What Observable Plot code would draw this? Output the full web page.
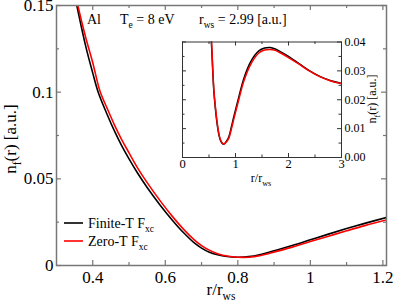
<!DOCTYPE html>
<html><head><meta charset="utf-8">
<script src="https://cdn.jsdelivr.net/npm/d3@7"></script>
<script src="https://cdn.jsdelivr.net/npm/@observablehq/plot@0.6"></script>
<style>
body{margin:0;background:#fff;}
#wrap{position:relative;width:395px;height:305px;overflow:hidden;background:#fff;}
#wrap svg{position:absolute;left:0;top:0;}
#wrap svg, #wrap svg text, #wrap svg tspan{font-family:"Liberation Serif","Times New Roman","DejaVu Serif",serif !important;}
</style></head><body><div id="wrap"></div>
<script>
// ---- main panel data (r/r_ws, n_f(r) [a.u.]) ----
const mainFiniteX = [0.33, 0.356, 0.38, 0.40, 0.415, 0.44, 0.46, 0.48, 0.50, 0.523, 0.55, 0.587, 0.62, 0.65, 0.68, 0.70, 0.72, 0.744, 0.77, 0.80, 0.83, 0.86, 0.89, 0.95, 1.0, 1.05, 1.1, 1.15, 1.21];
const mainFiniteY = [0.176, 0.150, 0.127, 0.111, 0.100, 0.087, 0.0775, 0.069, 0.0615, 0.0535, 0.045, 0.0345, 0.026, 0.019, 0.013, 0.010, 0.0078, 0.0062, 0.0052, 0.0048, 0.0051, 0.0062, 0.0079, 0.0115, 0.0148, 0.0181, 0.0213, 0.0243, 0.0277];
const mainZeroX = [0.335, 0.359, 0.38, 0.40, 0.42, 0.44, 0.46, 0.48, 0.50, 0.523, 0.55, 0.587, 0.62, 0.65, 0.68, 0.70, 0.72, 0.744, 0.77, 0.80, 0.83, 0.86, 0.89, 0.95, 1.0, 1.05, 1.1, 1.15, 1.21];
const mainZeroY = [0.176, 0.150, 0.132, 0.117, 0.1005, 0.0905, 0.081, 0.0725, 0.065, 0.0565, 0.0478, 0.037, 0.0282, 0.021, 0.0148, 0.0115, 0.009, 0.0068, 0.0055, 0.0048, 0.0048, 0.0056, 0.0072, 0.0106, 0.0138, 0.0169, 0.020, 0.023, 0.0263];

// ---- inset data ----
const insetFiniteX = [0.52, 0.545, 0.59, 0.62, 0.652, 0.68, 0.715, 0.75, 0.778, 0.82, 0.873, 0.92, 0.968, 1.063, 1.158, 1.285, 1.44, 1.55, 1.65, 1.75, 1.85, 2.0, 2.2, 2.4, 2.6, 2.8, 3.0];
const insetFiniteY = [0.048, 0.040, 0.0233, 0.017, 0.0118, 0.0085, 0.006, 0.0049, 0.0046, 0.0054, 0.0071, 0.0104, 0.0141, 0.021, 0.0274, 0.0331, 0.0369, 0.0379, 0.0381, 0.0376, 0.0366, 0.0350, 0.0325, 0.0300, 0.0280, 0.0266, 0.0257];
const insetZeroX = [0.525, 0.55, 0.59, 0.62, 0.652, 0.68, 0.715, 0.75, 0.78, 0.82, 0.873, 0.92, 0.968, 1.063, 1.158, 1.285, 1.44, 1.55, 1.65, 1.75, 1.85, 2.0, 2.2, 2.4, 2.6, 2.8, 3.0];
const insetZeroY = [0.048, 0.0395, 0.024, 0.0177, 0.0124, 0.0089, 0.0062, 0.005, 0.0046, 0.0052, 0.0066, 0.0097, 0.0133, 0.0201, 0.0265, 0.0322, 0.0362, 0.0372, 0.0374, 0.0371, 0.0362, 0.0346, 0.0323, 0.0299, 0.0279, 0.0265, 0.0256];

// ---- ticks ----
const mainXMajor = [0.4, 0.6, 0.8, 1.0, 1.2];
const mainXMinor = [0.5, 0.7, 0.9, 1.1];
const mainYMajor = [0, 0.05, 0.1, 0.15];
const mainYMinor = [0.025, 0.075, 0.125];
const insetXMajor = [0, 1, 2, 3];
const insetXMinor = [0.5, 1.5, 2.5];
const insetYMajor = [0, 0.01, 0.02, 0.03, 0.04];
const insetYMinor = [0.005, 0.015, 0.025, 0.035];

const seriesNames = ["Finite-T", "Zero-T"];
const colors = ["#000000", "#ff0000"];

const rows = (xs, ys) => xs.map((x, i) => ({x, y: ys[i]}));
const FONT = "'Liberation Serif', 'Times New Roman', 'DejaVu Serif', serif";
const W = 395, H = 305;

function tickMarks(xMaj, xMin, yMaj, yMin, fw, fh, maj, mn, stroke, sw) {
  const o = {stroke, strokeWidth: sw};
  return [
    Plot.ruleX(xMaj, {...o, insetTop: fh - maj}),
    Plot.ruleX(xMaj, {...o, insetBottom: fh - maj}),
    Plot.ruleX(xMin, {...o, insetTop: fh - mn}),
    Plot.ruleX(xMin, {...o, insetBottom: fh - mn}),
    Plot.ruleY(yMaj, {...o, insetRight: fw - maj}),
    Plot.ruleY(yMaj, {...o, insetLeft: fw - maj}),
    Plot.ruleY(yMin, {...o, insetRight: fw - mn}),
    Plot.ruleY(yMin, {...o, insetLeft: fw - mn})
  ];
}

function addText(svg, {x, y, rotate = 0, anchor = "start", size, parts}) {
  const t = svg.append("text")
    .attr("transform", `translate(${x},${y}) rotate(${rotate})`)
    .attr("text-anchor", anchor)
    .attr("font-size", size)
    .attr("fill", "#000")
    .style("font-family", FONT)
    .style("white-space", "pre");
  let shifted = false;
  for (const [s, sub] of parts) {
    const ts = t.append("tspan").text(s);
    if (sub) {
      ts.attr("font-size", size * 0.68);
      if (!shifted) { ts.attr("dy", size * 0.32); shifted = true; }
    } else if (shifted) {
      ts.attr("dy", -size * 0.32); shifted = false;
    }
  }
  return t;
}

// ---------- main plot ----------
const mL = 56, mR = 9, mT = 5, mB = 40;
const fw = W - mL - mR, fh = H - mT - mB;
const mainPlot = Plot.plot({
  width: W, height: H,
  marginLeft: mL, marginRight: mR, marginTop: mT, marginBottom: mB,
  x: {domain: [0.3, 1.21]},
  y: {domain: [0, 0.15]},
  style: {fontFamily: FONT, fontSize: "17px", background: "transparent", overflow: "visible", color: "#000"},
  marks: [
    Plot.line(rows(mainFiniteX, mainFiniteY), {x: "x", y: "y", stroke: colors[0], strokeWidth: 1.6, curve: "catmull-rom", clip: true}),
    Plot.line(rows(mainZeroX, mainZeroY), {x: "x", y: "y", stroke: colors[1], strokeWidth: 1.6, curve: "catmull-rom", clip: true}),
    ...tickMarks(mainXMajor, mainXMinor, mainYMajor, mainYMinor, fw, fh, 5, 3, "#777", 1.2),
    Plot.frame({stroke: "#777", strokeWidth: 1.5}),
    Plot.axisX(mainXMajor, {tickSize: 0, tickPadding: 5, tickFormat: d => String(d), label: null, fontSize: 17, fill: "#000"}),
    Plot.axisY(mainYMajor, {tickSize: 0, tickPadding: 3, tickFormat: d => String(d), label: null, fontSize: 17, fill: "#000"})
  ]
});

// ---------- inset plot ----------
const iL = 182, iR = W - 341, iT = 41.5, iB = H - 157;
const ifw = W - iL - iR, ifh = H - iT - iB;
const insetPlot = Plot.plot({
  width: W, height: H,
  marginLeft: iL, marginRight: iR, marginTop: iT, marginBottom: iB,
  x: {domain: [0, 3]},
  y: {domain: [0, 0.04]},
  style: {fontFamily: FONT, fontSize: "12px", background: "transparent", overflow: "visible", color: "#000"},
  marks: [
    Plot.frame({fill: "white", stroke: null}),
    Plot.line(rows(insetFiniteX, insetFiniteY), {x: "x", y: "y", stroke: colors[0], strokeWidth: 1.5, curve: "catmull-rom", clip: true}),
    Plot.line(rows(insetZeroX, insetZeroY), {x: "x", y: "y", stroke: colors[1], strokeWidth: 1.5, curve: "catmull-rom", clip: true}),
    ...tickMarks(insetXMajor, insetXMinor, insetYMajor, insetYMinor, ifw, ifh, 4, 2.5, "#333", 1),
    Plot.frame({stroke: "#333", strokeWidth: 1}),
    Plot.axisX(insetXMajor, {tickSize: 0, tickPadding: 2, tickFormat: d => String(d), label: null, fontSize: 12.5, fill: "#000"}),
    Plot.axisY(insetYMajor, {anchor: "right", tickSize: 0, tickPadding: 3, tickFormat: d => d.toFixed(2), label: null, fontSize: 12, fill: "#000"})
  ]
});

const wrap = document.getElementById("wrap");
wrap.appendChild(mainPlot);
wrap.appendChild(insetPlot);

// ---------- text labels ----------
const ms = d3.select(mainPlot);
addText(ms, {x: 16, y: 139, rotate: -90, anchor: "middle", size: 17, parts: [["n"], ["f", true], ["(r) [a.u.]"]]});
addText(ms, {x: 221, y: 295, anchor: "middle", size: 17, parts: [["r/r"], ["ws", true]]});
addText(ms, {x: 87, y: 24, size: 14, parts: [["Al"]]});
addText(ms, {x: 120, y: 24, size: 14, parts: [["T"], ["e", true], [" = 8 eV"]]});
addText(ms, {x: 199, y: 24, size: 14, parts: [["r"], ["ws", true], [" = 2.99 [a.u.]"]]});

// legend
const legY = [223, 241];
seriesNames.forEach((name, i) => {
  ms.append("line").attr("x1", 64).attr("x2", 83).attr("y1", legY[i]).attr("y2", legY[i])
    .attr("stroke", colors[i]).attr("stroke-width", 1.6);
  addText(ms, {x: 88, y: legY[i] + 5, size: 14, parts: [[name + " F"], ["xc", true]]});
});

const is = d3.select(insetPlot);
addText(is, {x: 261, y: 182, anchor: "middle", size: 12, parts: [["r/r"], ["ws", true]]});
addText(is, {x: 376, y: 99, rotate: -90, anchor: "middle", size: 12, parts: [["n"], ["f", true], ["(r) [a.u.]"]]});
</script></body></html>
